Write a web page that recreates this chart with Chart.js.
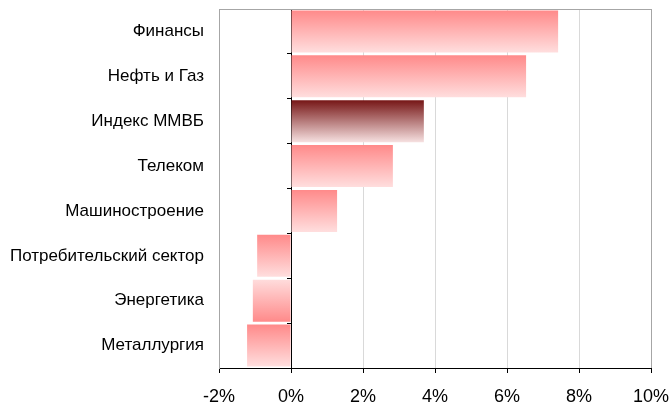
<!DOCTYPE html>
<html>
<head>
<meta charset="utf-8">
<script src="https://cdn.jsdelivr.net/npm/chart.js@4"></script>
<style>
    html, body { margin: 0; padding: 0; background: #fff; }
    #wrap { width: 671px; height: 411px; }
</style>
</head>
<body>
<div id="wrap"><canvas id="sectorChart"></canvas></div>
<script>
// Данные
const sectors = [
    "Финансы",
    "Нефть и Газ",
    "Индекс ММВБ",
    "Телеком",
    "Машиностроение",
    "Потребительский сектор",
    "Энергетика",
    "Металлургия"
];
const changes = [7.42, 6.53, 3.69, 2.83, 1.28, -0.94, -1.06, -1.22];
const xMin = -2;
const xMax = 10;
const xStep = 2;

const indexName = "Индекс ММВБ";
const flippedName = "Энергетика";
const fontName = "'Liberation Sans', Arial, sans-serif";
const barPct = 0.935;

// Градиент для каждого бара
function barFill(context) {
    const chart = context.chart;
    const y = chart.scales.y;
    if (!y || !chart.chartArea) return "#ffaaaa";

    const i = context.dataIndex;
    const center = y.getPixelForValue(i);
    const half = (y.getPixelForValue(1) - y.getPixelForValue(0)) * barPct / 2;
    const g = chart.ctx.createLinearGradient(0, center - half, 0, center + half);
    const name = sectors[i];

    if (name === indexName) {
        g.addColorStop(0, "#761616");
        g.addColorStop(1, "#f6e0e0");
    } else if (name === flippedName) {
        g.addColorStop(0, "#ffdcdc");
        g.addColorStop(1, "#ff8a8a");
    } else {
        g.addColorStop(0, "#ff8a8a");
        g.addColorStop(1, "#ffdede");
    }
    return g;
}

function noPadding(s) {
    s.paddingLeft = 0;
    s.paddingRight = 0;
    s.paddingTop = 0;
    s.paddingBottom = 0;
}

// Верхняя граница области графика
const topBorder = {
    id: "topBorder",
    beforeDatasetsDraw(chart) {
        const a = chart.chartArea;
        const c = chart.ctx;
        c.save();
        c.strokeStyle = "#a6a6a6";
        c.lineWidth = 1;
        c.beginPath();
        c.moveTo(a.left, a.top + 0.5);
        c.lineTo(a.right, a.top + 0.5);
        c.stroke();
        c.restore();
    }
};

const ctx = document.getElementById("sectorChart");

new Chart(ctx, {
    type: "bar",
    data: {
        labels: sectors,
        datasets: [{
            data: changes,
            backgroundColor: barFill,
            borderWidth: 0,
            barPercentage: barPct,
            categoryPercentage: 1
        }]
    },
    options: {
        indexAxis: "y",
        responsive: true,
        maintainAspectRatio: false,
        animation: false,
        layout: {
            padding: { top: 9, right: 20, left: 0, bottom: 0 }
        },
        plugins: {
            legend: { display: false },
            tooltip: { enabled: false }
        },
        scales: {
            x: {
                min: xMin,
                max: xMax,
                ticks: {
                    stepSize: xStep,
                    callback: v => v + "%",
                    color: "#000",
                    padding: 13,
                    maxRotation: 0,
                    font: { family: fontName, size: 18 }
                },
                grid: {
                    color: c => c.tick.value === 0 ? "#000" : (c.tick.value === xMax || c.tick.value === xMin ? "#a6a6a6" : "#d9d9d9"),
                    tickColor: "#000",
                    tickLength: 5
                },
                border: { color: "#000" },
                afterFit: s => { s.height = 43; noPadding(s); }
            },
            y: {
                offset: true,
                ticks: {
                    color: "#000",
                    padding: 15,
                    font: { family: fontName, size: 17 }
                },
                grid: { display: false, drawTicks: false },
                border: { color: "#a6a6a6" },
                afterFit: s => { s.width = 219; noPadding(s); }
            },
            yZero: {
                type: "category",
                labels: sectors,
                position: { x: 0 },
                offset: true,
                z: 1,
                ticks: { display: false },
                grid: {
                    offset: true,
                    drawOnChartArea: false,
                    tickLength: 4,
                    color: "#000"
                },
                border: { color: "#000" },
                afterFit: s => { noPadding(s); }
            }
        }
    },
    plugins: [topBorder]
});
</script>
</body>
</html>
